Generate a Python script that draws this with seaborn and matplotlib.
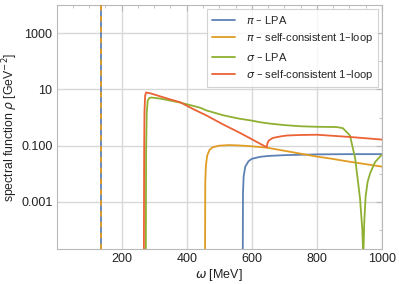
import matplotlib
matplotlib.use("Agg")
import matplotlib.pyplot as plt
import seaborn as sns
import numpy as np
import pandas as pd
from matplotlib.ticker import FixedLocator, NullFormatter

# ---------------- data ----------------
labels = [r"$\pi$ – LPA", r"$\pi$ – self-consistent 1–loop",
          r"$\sigma$ – LPA", r"$\sigma$ – self-consistent 1–loop"]
colors = ["#5E81B5", "#E19C24", "#8FB032", "#EB6235"]

pi_mass = 135  # MeV, delta peak of the pion

pi_lpa_w = [572, 573, 575, 580, 590, 600, 625, 650, 700, 800, 900, 1000]
pi_lpa_r = [1e-6, 0.002, 0.008, 0.018, 0.028, 0.034, 0.040, 0.043, 0.046, 0.049, 0.050, 0.050]

pi_sc_w = [456, 457, 459, 463, 470, 480, 500, 530, 560, 600, 646, 700, 750, 800, 841, 900, 1000]
pi_sc_r = [1e-6, 0.005, 0.02, 0.045, 0.07, 0.088, 0.1, 0.105, 0.102, 0.095, 0.085, 0.066,
           0.052, 0.041, 0.035, 0.027, 0.018]

sig_lpa_w = [274, 275, 277, 280, 285, 292, 320, 350, 380, 420, 441, 460, 513, 560, 600, 626, 656,
             700, 750, 800, 861, 880, 902, 918, 933, 940, 943, 946, 950, 956, 964, 979, 1000]
sig_lpa_r = [1e-6, 0.05, 1.5, 4.0, 5.0, 5.15, 4.7, 4.0, 3.4, 2.6, 2.25, 1.8, 1.2, 0.92, 0.78, 0.68,
             0.61, 0.54, 0.49, 0.47, 0.46, 0.42, 0.23, 0.035, 0.0013, 1e-4, 1e-5, 2e-4, 0.0015,
             0.005, 0.0105, 0.026, 0.048]

sig_sc_w = [268, 269, 270, 272, 275, 290, 320, 350, 380, 420, 460, 513, 560, 600, 630, 646,
            648, 652, 660, 666, 690, 708, 750, 800, 900, 1000]
sig_sc_r = [1e-6, 0.05, 1.5, 6.0, 7.8, 7.2, 5.6, 4.4, 3.5, 2.0, 1.2, 0.56, 0.30, 0.17, 0.11, 0.088,
            0.12, 0.15, 0.175, 0.19, 0.215, 0.23, 0.24, 0.245, 0.205, 0.165]

x_ticks = [200, 400, 600, 800, 1000]
x_minor = [50, 100, 150, 250, 300, 350, 450, 500, 550, 650, 700, 750, 850, 900, 950]
y_ticks = [1e3, 1e1, 1e-1, 1e-3]
y_ticklabels = ["1000", "10", "0.100", "0.001"]
y_minor = [1e2, 1e0, 1e-2, 1e-4]

# ---------------- plot ----------------
sns.set_style("white")
plt.rcParams["font.family"] = ["Liberation Sans", "DejaVu Sans"]
plt.rcParams["mathtext.fontset"] = "dejavusans"

fig = plt.figure(figsize=(3.99, 2.84), dpi=100)
ax = fig.add_axes([0.142, 0.123, 0.815, 0.859])

series = [(pi_lpa_w, pi_lpa_r), (pi_sc_w, pi_sc_r), (sig_lpa_w, sig_lpa_r), (sig_sc_w, sig_sc_r)]
frames = []
for lab, (w, r) in zip(labels, series):
    frames.append(pd.DataFrame({"omega": w, "rho": r, "series": lab}))
df = pd.concat(frames, ignore_index=True)

sns.lineplot(data=df, x="omega", y="rho", hue="series", hue_order=labels,
             palette=colors, sort=False, estimator=None, lw=1.3, ax=ax)

ax.axvline(pi_mass, color=colors[0], lw=1.3, zorder=3)
ax.axvline(pi_mass, color=colors[1], lw=1.3, ls=(0, (3, 3)), zorder=4)

ax.set_yscale("log")
ax.set_xlim(0, 1000)
ax.set_ylim(2.1e-5, 1e4)

ax.set_xticks(x_ticks)
ax.xaxis.set_minor_locator(FixedLocator(x_minor))
ax.set_yticks(y_ticks)
ax.set_yticklabels(y_ticklabels)
ax.yaxis.set_minor_locator(FixedLocator(y_minor))
ax.yaxis.set_minor_formatter(NullFormatter())

ax.grid(True, which="major", color="#d8d8d8", lw=1.0)
ax.set_axisbelow(True)
for s in ax.spines.values():
    s.set_color("#b8b8b8")
    s.set_linewidth(0.8)
ax.tick_params(which="both", direction="in", top=True, right=True, colors="#b8b8b8",
               labelcolor="#222222", labelsize=9, pad=3)
ax.tick_params(which="major", length=4)
ax.tick_params(which="minor", length=2)

ax.set_xlabel(r"$\omega$ [MeV]", fontsize=9, color="#222222", labelpad=1)
ax.set_ylabel(r"spectral function $\rho$ [GeV$^{-2}$]", fontsize=8.8, color="#222222", labelpad=1)

leg = ax.legend(loc="upper right", bbox_to_anchor=(0.995, 0.995), fontsize=8,
                frameon=True, fancybox=False, edgecolor="#c8c8c8", handlelength=2.0,
                labelspacing=0.5, borderpad=0.45, handletextpad=1.0, borderaxespad=0.2)
leg.get_frame().set_linewidth(0.8)

fig.savefig("out.png", dpi=100)
